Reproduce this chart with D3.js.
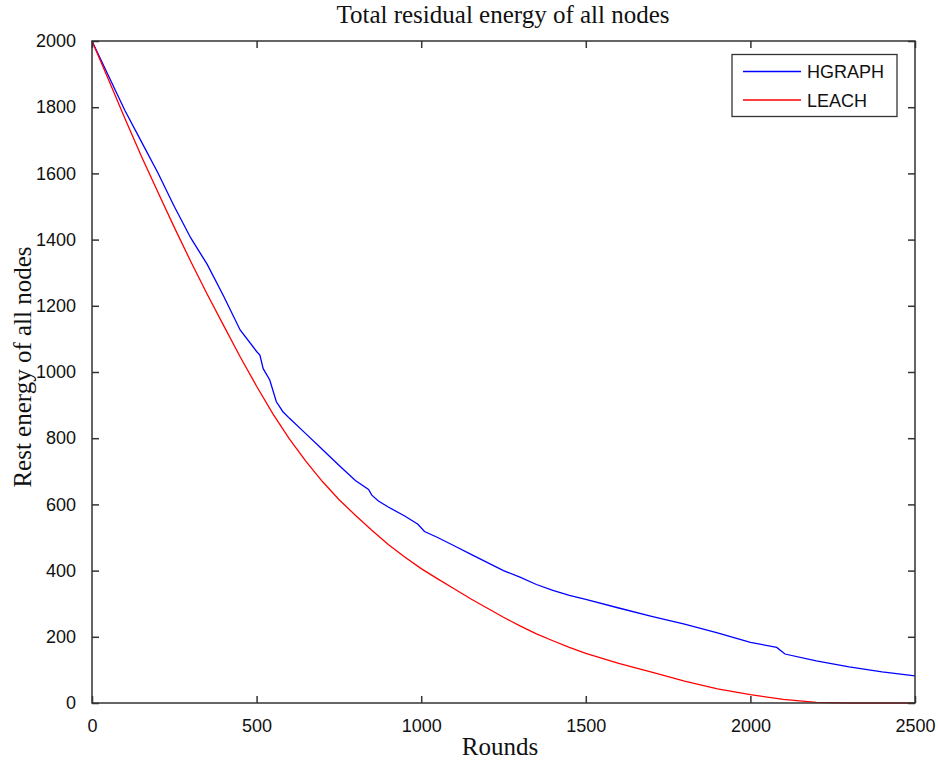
<!DOCTYPE html>
<html>
<head>
<meta charset="utf-8">
<script src="https://cdn.jsdelivr.net/npm/d3@7"></script>
<style>
  body { margin: 0; background: #fff; }
  svg { display: block; }
</style>
</head>
<body>
<svg id="chart" width="938" height="762"></svg>
<script>
// ---- data ----
const hgraphRounds = [0, 50, 100, 150, 200, 250, 300, 350, 400, 450, 500, 510, 520, 540, 560, 580, 600, 650, 700, 750, 800, 840, 850, 870, 900, 950, 990, 1010, 1050, 1100, 1150, 1200, 1250, 1300, 1350, 1400, 1450, 1500, 1600, 1700, 1800, 1900, 2000, 2060, 2080, 2105, 2200, 2300, 2400, 2500];
const hgraphEnergy = [2000, 1895, 1790, 1696, 1602, 1500, 1405, 1325, 1229, 1127, 1062, 1051, 1010, 976, 910, 880, 860, 813, 766, 718, 672, 645, 628, 610, 592, 565, 540, 518, 500, 475, 450, 425, 400, 380, 358, 340, 325, 313, 287, 262, 238, 212, 183, 172, 168, 148, 127, 109, 94, 82];
const leachRounds = [0, 50, 100, 150, 200, 250, 300, 350, 400, 450, 500, 550, 600, 650, 700, 750, 800, 850, 900, 950, 1000, 1050, 1100, 1150, 1200, 1250, 1300, 1350, 1400, 1450, 1500, 1600, 1700, 1800, 1900, 2000, 2100, 2200, 2300, 2500];
const leachEnergy = [2000, 1884, 1766, 1652, 1544, 1437, 1334, 1235, 1140, 1046, 957, 873, 797, 730, 669, 615, 567, 522, 479, 441, 406, 375, 345, 315, 287, 259, 233, 209, 188, 168, 150, 120, 93, 66, 43, 25, 11, 2, 0, 0];
const xTicks = [0, 500, 1000, 1500, 2000, 2500];
const yTicks = [0, 200, 400, 600, 800, 1000, 1200, 1400, 1600, 1800, 2000];
const seriesNames = ["HGRAPH", "LEACH"];
const seriesColors = ["#0000ff", "#ff0000"];
const titleText = "Total residual energy of all nodes";
const xLabelText = "Rounds";
const yLabelText = "Rest energy of all nodes";

// ---- layout ----
const L = 92, R = 915, T = 41, B = 703;
const svg = d3.select("#chart");
const x = d3.scaleLinear().domain([0, 2500]).range([L, R]);
const y = d3.scaleLinear().domain([0, 2000]).range([B, T]);
const axisColor = "#333";
const tickFont = "'Liberation Sans', Arial, sans-serif";
const serif = "'Liberation Serif', 'Times New Roman', serif";

// lines
const series = [
  { name: seriesNames[0], color: seriesColors[0], data: hgraphRounds.map((r, i) => [r, hgraphEnergy[i]]) },
  { name: seriesNames[1], color: seriesColors[1], data: leachRounds.map((r, i) => [r, leachEnergy[i]]) }
];
const line = d3.line().x(d => x(d[0])).y(d => y(d[1]));
svg.append("g").selectAll("path").data(series).join("path")
  .attr("d", d => line(d.data))
  .attr("fill", "none")
  .attr("stroke", d => d.color)
  .attr("stroke-width", 1.3);

// axes (inward ticks, box)
const tk = 7;
const gx = svg.append("g").attr("transform", `translate(0,${B})`)
  .call(d3.axisBottom(x).tickValues(xTicks).tickSize(-tk).tickPadding(tk + 9).tickFormat(d3.format("d")));
const gxt = svg.append("g").attr("transform", `translate(0,${T})`)
  .call(d3.axisTop(x).tickValues(xTicks).tickSize(-tk).tickFormat(""));
const gy = svg.append("g").attr("transform", `translate(${L},0)`)
  .call(d3.axisLeft(y).tickValues(yTicks).tickSize(-tk).tickPadding(tk + 9).tickFormat(d3.format("d")));
const gyr = svg.append("g").attr("transform", `translate(${R},0)`)
  .call(d3.axisRight(y).tickValues(yTicks).tickSize(-tk).tickFormat(""));
[gx, gxt, gy, gyr].forEach(g => {
  g.select(".domain").remove();
  g.selectAll("line").attr("stroke", axisColor).attr("stroke-width", 1.5);
  g.selectAll("text").attr("fill", "#111").style("font-family", tickFont).style("font-size", "18px");
});
svg.append("rect").attr("x", L).attr("y", T).attr("width", R - L).attr("height", B - T)
  .attr("fill", "none").attr("stroke", axisColor).attr("stroke-width", 1.5);

// title & labels
svg.append("text").attr("x", 503).attr("y", 23).attr("text-anchor", "middle")
  .style("font-family", serif).style("font-size", "25px").attr("fill", "#111").text(titleText);
svg.append("text").attr("x", 500).attr("y", 755).attr("text-anchor", "middle")
  .style("font-family", serif).style("font-size", "25px").attr("fill", "#111").text(xLabelText);
svg.append("text").attr("transform", `translate(31,${(T + B) / 2 - 5}) rotate(-90)`).attr("text-anchor", "middle")
  .style("font-family", serif).style("font-size", "25px").attr("fill", "#111").text(yLabelText);

// legend
const lg = svg.append("g");
lg.append("rect").attr("x", 732).attr("y", 54.5).attr("width", 165).attr("height", 62)
  .attr("fill", "#fff").attr("stroke", axisColor).attr("stroke-width", 1.3);
series.forEach((s, i) => {
  const yy = 71.5 + i * 28.5;
  lg.append("line").attr("x1", 743).attr("x2", 801).attr("y1", yy).attr("y2", yy)
    .attr("stroke", s.color).attr("stroke-width", 1.3);
  lg.append("text").attr("x", 807).attr("y", yy + 6.5)
    .style("font-family", tickFont).style("font-size", "18px").attr("fill", "#111").text(s.name);
});
</script>
</body>
</html>
